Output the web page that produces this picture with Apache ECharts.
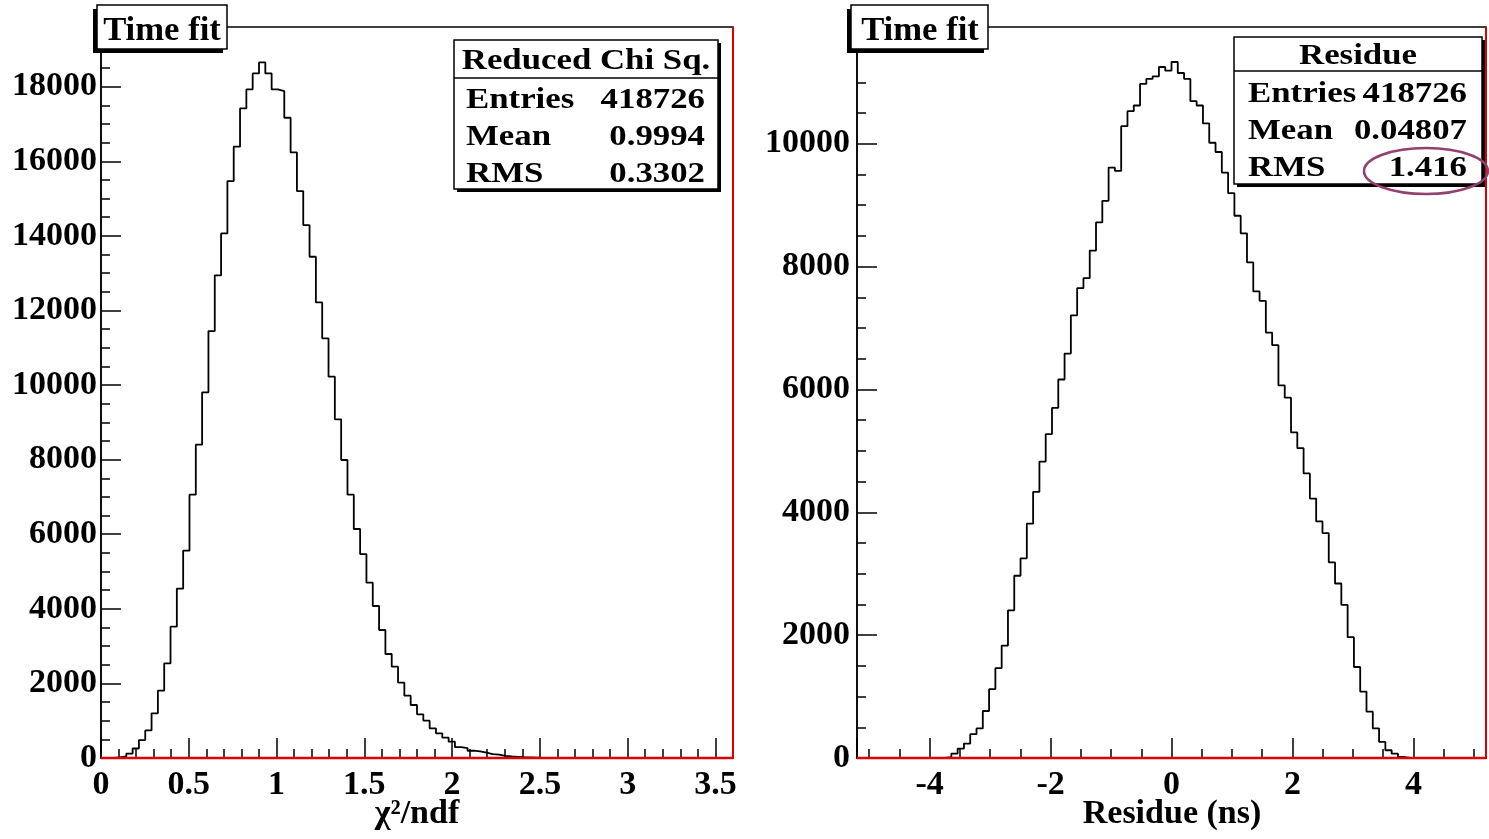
<!DOCTYPE html>
<html><head><meta charset="utf-8">
<script src="https://cdn.jsdelivr.net/npm/echarts@6/dist/echarts.min.js"></script>
<style>html,body{margin:0;padding:0;background:#fff}#c{width:1489px;height:839px}</style>
</head><body><div id="c"></div>
<script>
// ---------------- data ----------------
const chi2Range = [0, 3.6];          // 100 bins
const chi2Counts = [
  0, 0, 15, 40, 115, 255, 480, 740, 1198, 1805,
  2538, 3521, 4540, 5559, 7060, 8400, 9804, 11448, 12940, 14066,
  15469, 16390, 17417, 17927, 18356, 18650, 18356, 17927, 17882, 17167,
  16237, 15201, 14289, 13440, 12216, 11251, 10224, 9080, 7990, 7060,
  6140, 5469, 4700, 4075, 3432, 2788, 2449, 2020, 1671, 1421,
  1171, 1001, 796, 661, 545, 438, 290, 265, 195, 180,
  143, 105, 90, 55, 40, 30, 20, 15, 10, 5,
  0, 0, 0, 0, 0, 0, 0, 0, 0, 0,
  0, 0, 0, 0, 0, 0, 0, 0, 0, 0,
  0, 0, 0, 0, 0, 0, 0, 0, 0, 0
];
const residueRange = [-5.2, 5.2];    // 100 bins
const residueCounts = [
  0, 0, 0, 0, 0, 0, 0, 0, 0, 0,
  0, 0, 0, 0, 16, 71, 153, 235, 388, 481,
  765, 1120, 1464, 1830, 2404, 2967, 3251, 3814, 4333, 4825,
  5273, 5699, 6162, 6584, 7206, 7649, 7811, 8260, 8719, 9070,
  9611, 9557, 10286, 10530, 10622, 10973, 11054, 11097, 11249, 11189,
  11330, 11151, 11054, 10692, 10622, 10330, 10016, 9865, 9530, 9195,
  8827, 8541, 8068, 7595, 7443, 6926, 6720, 6067, 5866, 5300,
  5043, 4633, 4224, 3852, 3661, 3186, 2841, 2492, 1967, 1481,
  1082, 754, 481, 262, 126, 71, 16, 0, 0, 0,
  0, 0, 0, 0, 0, 0, 0, 0, 0, 0
];
const chi2YMax = 19600;
const residueYMax = 11900;
const padTitle = 'Time fit';
const chi2XTitle = 'χ²/ndf';
const residueXTitle = 'Residue (ns)';
const chi2StatHeader = 'Reduced Chi Sq.';
const residueStatHeader = 'Residue';
const statLabels = ['Entries', 'Mean', 'RMS'];
const chi2StatValues = ['418726', '0.9994', '0.3302'];
const residueStatValues = ['418726', '0.04807', '1.416'];

// ---------------- helpers ----------------
const FONT = 'Liberation Serif';
function histData(counts, range) {
  const w = (range[1] - range[0]) / counts.length;
  const d = counts.map((c, i) => [range[0] + i * w, c]);
  d.push([range[1], counts[counts.length - 1]]);
  return d;
}
const axisFont = { fontFamily: FONT, fontWeight: 'bold', fontSize: 34, color: '#000' };
const blk = { color: '#000', width: 1.5 };
const plain = v => String(v);

function xAxisCfg(grid, range, extra, showMin) {
  return Object.assign({
    gridIndex: grid, type: 'value', min: range[0], max: range[1],
    axisLine: { show: true, onZero: false, lineStyle: blk },
    axisTick: { show: true, inside: true, length: 20, lineStyle: blk },
    minorTick: { show: true, length: 9, lineStyle: blk },
    splitLine: { show: false }, minorSplitLine: { show: false },
    axisLabel: Object.assign({ margin: 10, formatter: plain, showMinLabel: showMin, showMaxLabel: false, hideOverlap: false }, axisFont)
  }, extra);
}
function yAxisCfg(grid, max, margin) {
  return {
    gridIndex: grid, type: 'value', min: 0, max: max, interval: 2000,
    axisLine: { show: true, onZero: false, lineStyle: blk },
    axisTick: { show: true, inside: true, length: 20, lineStyle: blk },
    minorTick: { show: true, splitNumber: 4, length: 9, lineStyle: blk },
    splitLine: { show: false }, minorSplitLine: { show: false },
    axisLabel: Object.assign({ margin: margin, formatter: plain, showMinLabel: true, showMaxLabel: false, hideOverlap: false }, axisFont)
  };
}
function txt(x, y, s, align, size, sx) {
  return { type: 'text', x: x, y: y, scaleX: sx || 1, z: 110,
    style: { text: s, textAlign: align, textVerticalAlign: 'middle', fontFamily: FONT, fontWeight: 'bold', fontSize: size, fill: '#000' } };
}
function box(x, y, w, h, dx, dy) {
  return [
    { type: 'rect', z: 105, shape: { x: x + dx, y: y + dy, width: w, height: h }, style: { fill: '#000' } },
    { type: 'rect', z: 106, shape: { x: x, y: y, width: w, height: h }, style: { fill: '#fff', stroke: '#000', lineWidth: 1.5 } }
  ];
}
function line(x1, y1, x2, y2, color, w, z) {
  return { type: 'line', z: z || 100, shape: { x1, y1, x2, y2 }, style: { stroke: color, lineWidth: w } };
}
function statsBox(x, y, w, h, sepY, header, headerY, values, rowYs, labelX, valueX) {
  const g = box(x, y, w, h, 3, 3);
  g.push(line(x, sepY, x + w, sepY, '#000', 1.5, 107));
  g.push(txt(x + w / 2, headerY, header, 'center', 29, 1.2));
  statLabels.forEach((l, i) => {
    g.push(txt(labelX, rowYs[i], l, 'left', 29, 1.2));
    g.push(txt(valueX, rowYs[i], values[i], 'right', 29, 1.2));
  });
  return g;
}

const RED = '#e00000';
const graphics = [].concat(
  // red lines (bottom and right frame)
  [line(101, 758, 733, 758, RED, 2.5), line(733, 27, 733, 759, RED, 2),
   line(857, 758, 1486, 758, RED, 2.5), line(1486, 27, 1486, 759, RED, 2)],
  // pad titles
  box(97, 5, 130, 44, -4, 4), [txt(162, 31, padTitle, 'center', 33, 1.05)],
  box(851, 5, 137, 44, -4, 4), [txt(920, 31, padTitle, 'center', 33, 1.05)],
  // stats boxes
  statsBox(454, 40, 264, 149, 78, chi2StatHeader, 62, chi2StatValues, [101, 138, 175], 466, 705),
  statsBox(1234, 37, 248, 147, 71, residueStatHeader, 57, residueStatValues, [95, 132, 169], 1248, 1467),
  // axis titles
  [txt(417, 814, chi2XTitle, 'center', 34, 1), txt(1172, 814, residueXTitle, 'center', 34, 1)],
  // highlight ellipse
  [{ type: 'ellipse', z: 120, shape: { cx: 1426, cy: 171, rx: 62, ry: 23 }, style: { fill: 'none', stroke: '#93406f', lineWidth: 2.5 } }]
);

const chart = echarts.init(document.getElementById('c'), null, { renderer: 'canvas' });
chart.setOption({
  animation: false,
  backgroundColor: '#fff',
  grid: [
    { left: 101, top: 27, width: 632, height: 731, show: true, borderColor: '#000', borderWidth: 1.5, backgroundColor: 'transparent', containLabel: false, outerBoundsMode: 'none' },
    { left: 857, top: 27, width: 629, height: 731, show: true, borderColor: '#000', borderWidth: 1.5, backgroundColor: 'transparent', containLabel: false, outerBoundsMode: 'none' }
  ],
  xAxis: [
    xAxisCfg(0, chi2Range, { interval: 0.5, minorTick: { show: true, splitNumber: 5, length: 9, lineStyle: blk } }, true),
    xAxisCfg(1, residueRange, { minInterval: 2, maxInterval: 2, minorTick: { show: true, splitNumber: 4, length: 9, lineStyle: blk } }, false)
  ],
  yAxis: [yAxisCfg(0, chi2YMax, 4), yAxisCfg(1, residueYMax, 7)],
  series: [
    { type: 'line', xAxisIndex: 0, yAxisIndex: 0, data: histData(chi2Counts, chi2Range), step: 'end', symbol: 'none', showSymbol: false, silent: true, lineStyle: { color: '#000', width: 1.8 }, z: 3 },
    { type: 'line', xAxisIndex: 1, yAxisIndex: 1, data: histData(residueCounts, residueRange), step: 'end', symbol: 'none', showSymbol: false, silent: true, lineStyle: { color: '#000', width: 1.8 }, z: 3 }
  ],
  graphic: graphics
});
</script>
</body></html>
